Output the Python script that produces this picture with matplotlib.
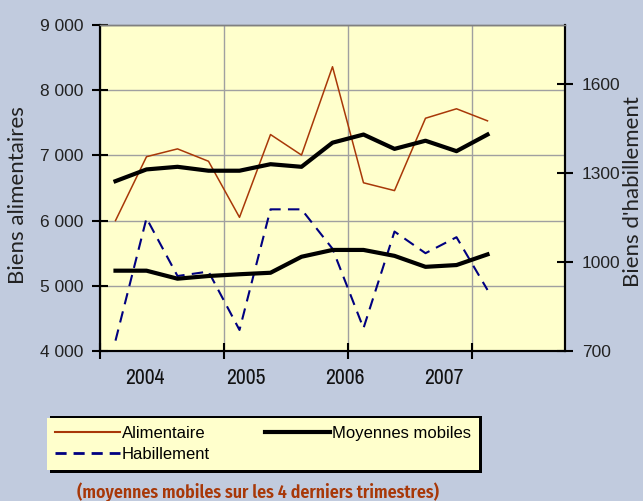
import matplotlib.pyplot as plt
import matplotlib.patches as mpatches
from matplotlib.ticker import FuncFormatter

# trimestres, du T2 2003 au T2 2006 (13 points)
trimestres = list(range(13))
alimentaire = [6000, 6980, 7100, 6910, 6050, 7320, 7005, 8360, 6580, 6460, 7570, 7715, 7530]
moy_alim = [6605, 6785, 6825, 6765, 6765, 6865, 6825, 7195, 7320, 7100, 7225, 7065, 7320]
habillement = [735, 1148, 953, 968, 771, 1178, 1178, 1045, 777, 1103, 1030, 1084, 906]
moy_habil = [971, 971, 944, 953, 959, 964, 1018, 1041, 1041, 1021, 984, 990, 1026]
annees = ["2004", "2005", "2006", "2007"]

fond = "#C1CBDE"
jaune = "#FFFFCC"
brun = "#A83808"
bleu = "#000080"

plt.rcParams["font.family"] = ["Liberation Sans", "DejaVu Sans"]

fig = plt.figure(figsize=(6.43, 5.01), dpi=100, facecolor=fond)
ax = fig.add_axes([100/643, 1-351/501, 465/643, 326/501])
ax.set_facecolor(jaune)
ax2 = ax.twinx()

x = [t + 0.5 for t in trimestres]
ax.plot(x, alimentaire, color=brun, lw=1.1, zorder=3)
ax.plot(x, moy_alim, color="black", lw=3, zorder=5)
ax2.plot(x, habillement, color=bleu, lw=1.5, dashes=(5.5, 3.5), zorder=3)
ax2.plot(x, moy_habil, color="black", lw=3, zorder=5)

ax.set_xlim(0, 15)
ax.set_ylim(4000, 9000)
ax2.set_ylim(700, 1800)

ax.set_yticks([4000, 5000, 6000, 7000, 8000, 9000])
ax.yaxis.set_major_formatter(FuncFormatter(lambda v, p: f"{int(v)//1000} 000"))
ax2.set_yticks([700, 1000, 1300, 1600])

ax.set_xticks([0, 4, 8, 12])
ax.set_xticklabels([])
ax.set_xticks([1.45, 4.7, 7.9, 11.1], minor=True)
ax.set_xticklabels(annees, minor=True, family=["Archivo Narrow", "DejaVu Sans"],
                   fontsize=15.5)
ax.tick_params(axis="x", which="minor", length=0, pad=12, labelcolor="#111111")
ax.tick_params(axis="x", which="major", direction="inout", length=12, width=1.5)
ax.tick_params(axis="y", direction="inout", length=12, width=1.5, labelsize=12.5, pad=6,
               labelcolor="#222222")
ax2.tick_params(axis="y", direction="inout", length=12, width=1.5, labelsize=12.5, pad=6,
                labelcolor="#222222")

ax.grid(True, which="major", color="#A0A0A0", lw=1)
ax.set_axisbelow(True)

for a in (ax, ax2):
    a.spines["top"].set_color("#808080")
    a.spines["top"].set_linewidth(1)
    for s in ("left", "bottom", "right"):
        a.spines[s].set_linewidth(1.5)
        a.spines[s].set_color("black")

fig.text(18/643, 1-195/501, "Biens alimentaires", rotation=90, ha="center", va="center",
         family="Lato", fontsize=16, color="#222222")
fig.text(633/643, 1-192/501, "Biens d'habillement", rotation=90, ha="center", va="center",
         family="Lato", fontsize=16, color="#222222")

# legende avec ombre noire
lx, ly, lw_, lh = 47/643, 1-470/501, 432/643, 57/501
fig.patches.append(mpatches.Rectangle((lx + 3/643, ly - 3/501), lw_, lh,
                                      transform=fig.transFigure, facecolor="black",
                                      edgecolor="none", zorder=1))
h1, = ax.plot([], [], color=brun, lw=1.5)
h2, = ax.plot([], [], color=bleu, lw=2, dashes=(4, 2.5))
h3, = ax.plot([], [], color="black", lw=3)
leg = fig.legend([h1, h2, h3], ["Alimentaire", "Habillement", "Moyennes mobiles"],
                 ncol=2, loc="lower left", bbox_to_anchor=(lx, ly, lw_, lh),
                 mode="expand", borderaxespad=0, frameon=True, fancybox=False,
                 handlelength=3.9, handletextpad=0.1, labelspacing=0.35, borderpad=0.5,
                 prop={"family": "Liberation Sans", "size": 12})
leg.get_frame().set_facecolor(jaune)
leg.get_frame().set_edgecolor("none")
leg.get_frame().set_alpha(1)
leg.set_zorder(2)

fig.text(258/643, 1-492/501, "(moyennes mobiles sur les 4 derniers trimestres)",
         ha="center", va="center", color=brun, fontsize=12.8, fontweight="semibold",
         family="Fira Sans Condensed")

fig.savefig("out.png", dpi=100, facecolor=fond)
